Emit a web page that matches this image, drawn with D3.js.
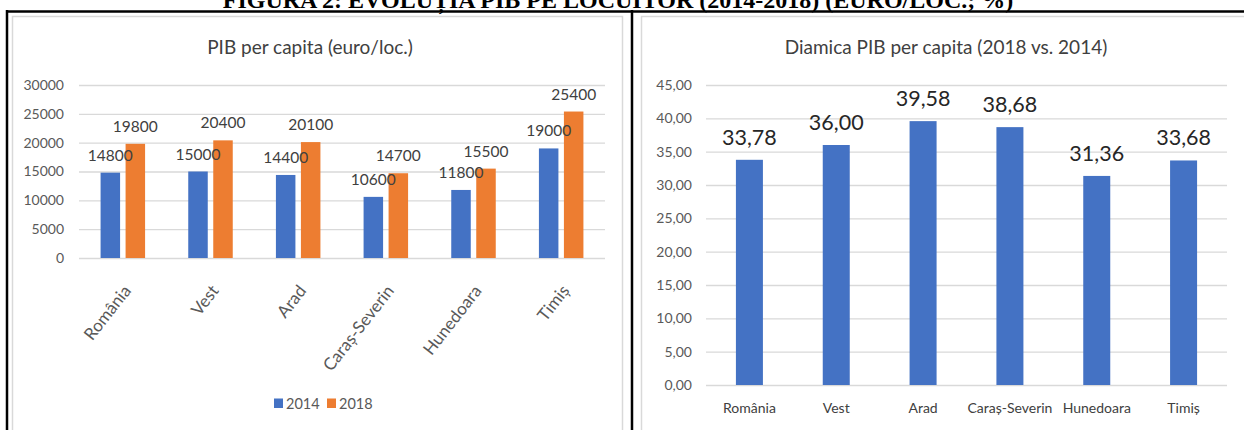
<!DOCTYPE html>
<html>
<head>
<meta charset="utf-8">
<script src="https://cdn.jsdelivr.net/npm/d3@7"></script>
<style>
  html, body { margin: 0; padding: 0; background: #fff; }
  svg { display: block; }
</style>
</head>
<body>
<svg id="chart" width="1244" height="430"></svg>
<script>
// ---------- DATA ----------
const categories = ["România", "Vest", "Arad", "Caraș-Severin", "Hunedoara", "Timiș"];
const seriesNames = ["2014", "2018"];
const values2014 = [14800, 15000, 14400, 10600, 11800, 19000];
const values2018 = [19800, 20400, 20100, 14700, 15500, 25400];
const dynamics = [33.78, 36.00, 39.58, 38.68, 31.36, 33.68];
const leftTicks = [0, 5000, 10000, 15000, 20000, 25000, 30000];
const rightTicks = [0, 5, 10, 15, 20, 25, 30, 35, 40, 45];

const figureTitle = "FIGURA 2: EVOLUȚIA PIB PE LOCUITOR (2014-2018) (EURO/LOC.; %)";
const leftTitle = "PIB per capita (euro/loc.)";
const rightTitle = "Diamica PIB per capita (2018 vs. 2014)";

// ---------- STYLE ----------
const BLUE = "#4472C4", ORANGE = "#ED7D31", GRID = "#D9D9D9";
const TXT = "#595959", DARK = "#404040";
const FONT = "Lato, 'Open Sans', sans-serif";

const svg = d3.select("#chart");

// Figure caption (partly cut off at the top, as in the source)
svg.append("text")
  .attr("x", 618).attr("y", 8)
  .attr("text-anchor", "middle")
  .attr("font-family", "'Liberation Serif', 'Times New Roman', serif")
  .attr("font-weight", "bold")
  .attr("font-size", 24)
  .attr("fill", "#000")
  .text(figureTitle);

// Table frame
svg.append("line").attr("x1", 6).attr("x2", 1244).attr("y1", 11.5).attr("y2", 11.5)
  .attr("stroke", "#000").attr("stroke-width", 2.5);
svg.append("line").attr("x1", 7).attr("x2", 7).attr("y1", 10).attr("y2", 430)
  .attr("stroke", "#000").attr("stroke-width", 2.5);
svg.append("line").attr("x1", 632).attr("x2", 632).attr("y1", 10).attr("y2", 430)
  .attr("stroke", "#000").attr("stroke-width", 2.5);

// Chart panels (light gray borders)
svg.append("rect").attr("x", 12.5).attr("y", 16.5).attr("width", 610).attr("height", 420)
  .attr("fill", "#fff").attr("stroke", GRID).attr("stroke-width", 1.5);
svg.append("rect").attr("x", 641.5).attr("y", 16.5).attr("width", 610).attr("height", 420)
  .attr("fill", "#fff").attr("stroke", GRID).attr("stroke-width", 1.5);

// ---------- LEFT CHART ----------
{
  const x0 = 79, x1 = 605, yTop = 85, yBot = 258;
  const x = d3.scaleBand().domain(categories).range([x0, x1]);
  const y = d3.scaleLinear().domain([0, 30000]).range([yBot, yTop]);
  const g = svg.append("g");

  g.append("text").attr("x", 310).attr("y", 54).attr("text-anchor", "middle")
    .attr("font-family", FONT).attr("font-size", 19).attr("fill", DARK).text(leftTitle);

  // gridlines
  g.selectAll(".grid").data(leftTicks).join("line")
    .attr("x1", x0).attr("x2", x1)
    .attr("y1", d => y(d) + 0.5).attr("y2", d => y(d) + 0.5)
    .attr("stroke", GRID).attr("stroke-width", 1.3);

  const yAxis = d3.axisLeft(y).tickValues(leftTicks).tickSize(0).tickPadding(0).tickFormat(d3.format("d"));
  const ya = g.append("g").attr("transform", `translate(64,0)`).call(yAxis);
  ya.select(".domain").remove();
  ya.selectAll("text").attr("font-family", FONT).attr("font-size", 14).attr("fill", TXT);

  const sub = d3.scaleOrdinal().domain(seriesNames).range([-12.5, 12.5]);
  const colors = d3.scaleOrdinal().domain(seriesNames).range([BLUE, ORANGE]);
  const bw = 19.5;
  const rows = [];
  categories.forEach((c, i) => {
    rows.push({ c, s: "2014", v: values2014[i] });
    rows.push({ c, s: "2018", v: values2018[i] });
  });
  const cx = d => x(d.c) + x.bandwidth() / 2 + sub(d.s);
  g.selectAll(".bar").data(rows).join("rect")
    .attr("x", d => cx(d) - bw / 2).attr("width", bw)
    .attr("y", d => y(d.v)).attr("height", d => y(0) - y(d.v))
    .attr("fill", d => colors(d.s));
  g.selectAll(".lbl").data(rows).join("text")
    .attr("x", d => cx(d)).attr("y", d => y(d.v) - 12)
    .attr("text-anchor", "middle")
    .attr("font-family", FONT).attr("font-size", 15.5).attr("fill", DARK)
    .text(d => d.v);

  // rotated category labels
  g.selectAll(".cat").data(categories).join("text")
    .attr("transform", d => `translate(${x(d) + x.bandwidth() / 2 + 9},${291}) rotate(-52)`)
    .attr("text-anchor", "end")
    .attr("font-family", FONT).attr("font-size", 17).attr("fill", TXT)
    .text(d => d);

  // legend
  const leg = g.append("g");
  const legItems = [{ s: "2014", x: 274 }, { s: "2018", x: 327 }];
  leg.selectAll("rect").data(legItems).join("rect")
    .attr("x", d => d.x).attr("y", 398.5).attr("width", 9).attr("height", 9.5)
    .attr("fill", d => colors(d.s));
  leg.selectAll("text").data(legItems).join("text")
    .attr("x", d => d.x + 12).attr("y", 408.5)
    .attr("font-family", FONT).attr("font-size", 14.5).attr("fill", TXT)
    .text(d => d.s);
}

// ---------- RIGHT CHART ----------
{
  const x0 = 706, x1 = 1227, yTop = 85, yBot = 385;
  const x = d3.scaleBand().domain(categories).range([x0, x1]);
  const y = d3.scaleLinear().domain([0, 45]).range([yBot, yTop]);
  const g = svg.append("g");
  const fmt = v => d3.format(".2f")(v).replace(".", ",");

  g.append("text").attr("x", 946).attr("y", 54).attr("text-anchor", "middle")
    .attr("font-family", FONT).attr("font-size", 19).attr("fill", DARK).text(rightTitle);

  g.selectAll(".grid").data(rightTicks).join("line")
    .attr("x1", x0).attr("x2", x1)
    .attr("y1", d => y(d) + 0.5).attr("y2", d => y(d) + 0.5)
    .attr("stroke", GRID).attr("stroke-width", 1.3);

  const yAxis = d3.axisLeft(y).tickValues(rightTicks).tickSize(0).tickPadding(0).tickFormat(fmt);
  const ya = g.append("g").attr("transform", `translate(692,0)`).call(yAxis);
  ya.select(".domain").remove();
  ya.selectAll("text").attr("font-family", FONT).attr("font-size", 14).attr("fill", TXT);

  const bw = 27;
  const cx = (d, i) => x(categories[i]) + x.bandwidth() / 2;
  g.selectAll(".bar").data(dynamics).join("rect")
    .attr("x", (d, i) => cx(d, i) - bw / 2).attr("width", bw)
    .attr("y", d => y(d)).attr("height", d => y(0) - y(d))
    .attr("fill", BLUE);
  g.selectAll(".lbl").data(dynamics).join("text")
    .attr("x", (d, i) => cx(d, i)).attr("y", d => y(d) - 15)
    .attr("text-anchor", "middle")
    .attr("font-family", FONT).attr("font-size", 21.5).attr("fill", "#262626")
    .text(d => fmt(d));

  const xAxis = d3.axisBottom(x).tickSize(0).tickPadding(0);
  const xa = g.append("g").attr("transform", `translate(0,${yBot + 28})`).call(xAxis);
  xa.select(".domain").remove();
  xa.selectAll("text").attr("dy", 0).attr("font-family", FONT).attr("font-size", 14).attr("fill", DARK);
}
</script>
</body>
</html>
